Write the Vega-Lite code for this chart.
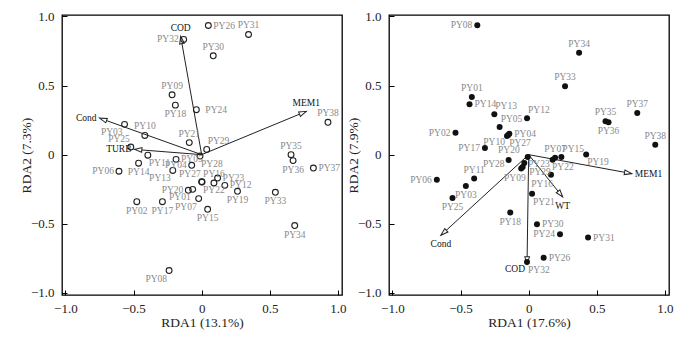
{
  "$schema": "https://vega.github.io/schema/vega-lite/v6.json",
  "padding": {"left": 18, "top": 9, "right": 5, "bottom": 2},
  "background": "white",
  "config": {
    "view": {"stroke": "black", "strokeWidth": 1.3},
    "font": "Liberation Serif",
    "axis": {
      "domain": false, "grid": false, "tickColor": "black", "tickSize": -5, "tickWidth": 1,
      "labelFont": "Liberation Serif", "labelFontSize": 13, "labelColor": "#222",
      "titleFont": "Liberation Serif", "titleFontSize": 13.5, "titleFontWeight": "normal", "titleColor": "#222",
      "labelFlush": false, "labelOverlap": false,
      "labelExpr": "datum.value == 0 ? '0' : format(datum.value, '.1f')"
    },
    "axisX": {"labelPadding": 12, "titleY": 27.5, "titleBaseline": "middle"},
    "axisY": {"labelPadding": 13, "titleX": -36, "titleY": 140, "titleBaseline": "middle", "titleAngle": -90},
    "text": {"font": "Liberation Serif", "fontSize": 9.5, "color": "#8a8a8a"}
  },
  "datasets": {
    "sa": [
      {"site": "PY01", "x": -0.066, "y": -0.251},
      {"site": "PY02", "x": -0.476, "y": -0.340},
      {"site": "PY03", "x": -0.566, "y": 0.219},
      {"site": "PY04", "x": -0.073, "y": -0.077},
      {"site": "PY05", "x": -0.188, "y": -0.034},
      {"site": "PY06", "x": -0.607, "y": -0.120},
      {"site": "PY07", "x": -0.022, "y": -0.318},
      {"site": "PY08", "x": -0.239, "y": -0.838},
      {"site": "PY09", "x": -0.217, "y": 0.433},
      {"site": "PY10", "x": -0.417, "y": 0.139},
      {"site": "PY11", "x": -0.395, "y": -0.004},
      {"site": "PY12", "x": 0.170, "y": -0.222},
      {"site": "PY13", "x": -0.212, "y": -0.114},
      {"site": "PY14", "x": -0.463, "y": -0.062},
      {"site": "PY15", "x": 0.044, "y": -0.395},
      {"site": "PY16", "x": 0.090, "y": -0.205},
      {"site": "PY17", "x": -0.288, "y": -0.340},
      {"site": "PY18", "x": -0.193, "y": 0.358},
      {"site": "PY19", "x": 0.263, "y": -0.265},
      {"site": "PY20", "x": -0.098, "y": -0.258},
      {"site": "PY21", "x": -0.091, "y": 0.087},
      {"site": "PY22", "x": 0.003, "y": -0.198},
      {"site": "PY23", "x": 0.117, "y": -0.169},
      {"site": "PY24", "x": -0.039, "y": 0.325},
      {"site": "PY25", "x": -0.520, "y": 0.055},
      {"site": "PY26", "x": 0.049, "y": 0.934},
      {"site": "PY27", "x": 0.000, "y": -0.196},
      {"site": "PY28", "x": -0.012, "y": -0.010},
      {"site": "PY29", "x": 0.037, "y": 0.038},
      {"site": "PY30", "x": 0.085, "y": 0.715},
      {"site": "PY31", "x": 0.344, "y": 0.869},
      {"site": "PY32", "x": -0.132, "y": 0.833},
      {"site": "PY33", "x": 0.541, "y": -0.272},
      {"site": "PY34", "x": 0.683, "y": -0.513},
      {"site": "PY35", "x": 0.656, "y": 0.0},
      {"site": "PY36", "x": 0.671, "y": -0.043},
      {"site": "PY37", "x": 0.820, "y": -0.097},
      {"site": "PY38", "x": 0.927, "y": 0.234}
    ],
    "va": [
      {"var": "COD", "x": -0.154, "y": 0.855},
      {"var": "Cond", "x": -0.749, "y": 0.264},
      {"var": "TURB", "x": -0.493, "y": 0.038},
      {"var": "MEM1", "x": 0.768, "y": 0.313}
    ],
    "sb": [
      {"site": "PY01", "x": -0.417, "y": 0.417},
      {"site": "PY02", "x": -0.537, "y": 0.159},
      {"site": "PY03", "x": -0.461, "y": -0.227},
      {"site": "PY04", "x": -0.142, "y": 0.152},
      {"site": "PY05", "x": -0.213, "y": 0.200},
      {"site": "PY06", "x": -0.674, "y": -0.181},
      {"site": "PY07", "x": 0.194, "y": -0.022},
      {"site": "PY08", "x": -0.377, "y": 0.935},
      {"site": "PY09", "x": -0.044, "y": -0.090},
      {"site": "PY10", "x": -0.159, "y": 0.135},
      {"site": "PY11", "x": -0.400, "y": -0.173},
      {"site": "PY12", "x": -0.012, "y": 0.263},
      {"site": "PY13", "x": -0.252, "y": 0.292},
      {"site": "PY14", "x": -0.434, "y": 0.364},
      {"site": "PY15", "x": 0.240, "y": -0.017},
      {"site": "PY16", "x": -0.032, "y": -0.061},
      {"site": "PY17", "x": -0.321, "y": 0.048},
      {"site": "PY18", "x": -0.135, "y": -0.419},
      {"site": "PY19", "x": 0.422, "y": 0.002},
      {"site": "PY20", "x": -0.007, "y": -0.017},
      {"site": "PY21", "x": 0.025, "y": -0.282},
      {"site": "PY22", "x": 0.164, "y": -0.145},
      {"site": "PY23", "x": 0.176, "y": -0.036},
      {"site": "PY24", "x": 0.230, "y": -0.576},
      {"site": "PY25", "x": -0.559, "y": -0.313},
      {"site": "PY26", "x": 0.110, "y": -0.745},
      {"site": "PY27", "x": -0.150, "y": 0.142},
      {"site": "PY28", "x": -0.147, "y": -0.039},
      {"site": "PY29", "x": -0.055, "y": -0.100},
      {"site": "PY30", "x": 0.061, "y": -0.504},
      {"site": "PY31", "x": 0.436, "y": -0.600},
      {"site": "PY32", "x": -0.012, "y": -0.776},
      {"site": "PY33", "x": 0.267, "y": 0.494},
      {"site": "PY34", "x": 0.370, "y": 0.737},
      {"site": "PY35", "x": 0.564, "y": 0.241},
      {"site": "PY36", "x": 0.586, "y": 0.234},
      {"site": "PY37", "x": 0.797, "y": 0.301},
      {"site": "PY38", "x": 0.929, "y": 0.072}
    ],
    "vb": [
      {"var": "COD", "x": -0.012, "y": -0.792},
      {"var": "Cond", "x": -0.644, "y": -0.583},
      {"var": "WT", "x": 0.250, "y": -0.306},
      {"var": "MEM1", "x": 0.757, "y": -0.137}
    ]
  },
  "bounds": "flush",
  "spacing": 47,
  "hconcat": [
    {
      "width": 280, "height": 280,
      "encoding": {
        "x": {"field": "x", "type": "quantitative", "scale": {"domain": [-1.025, 1.03], "nice": false, "zero": false}, "axis": {"title": "RDA1 (13.1%)", "values": [-1, -0.5, 0, 0.5, 1]}},
        "y": {"field": "y", "type": "quantitative", "scale": {"domain": [-1.015, 1.01], "nice": false, "zero": false}, "axis": {"title": "RDA2 (7.3%)", "values": [-1, -0.5, 0, 0.5, 1]}}
      },
      "layer": [
        {"data": {"values": [{"k": 0}]}, "mark": {"type": "rule", "color": "black", "strokeDash": [3, 2], "strokeWidth": 1}, "encoding": {"y": {"datum": 0}, "x": {"datum": -1.025}, "x2": {"datum": 1.03}}},
        {"data": {"values": [{"k": 0}]}, "mark": {"type": "rule", "color": "black", "strokeDash": [3, 2], "strokeWidth": 1}, "encoding": {"x": {"datum": 0}, "y": {"datum": -1.015}, "y2": {"datum": 1.01}}},
        {"data": {"name": "va"}, "mark": {"type": "rule", "color": "#222", "strokeWidth": 1}, "encoding": {"x2": {"datum": 0}, "y2": {"datum": 0}}},
        {"data": {"name": "va"}, "transform": [{"calculate": "atan2(datum.x, datum.y) * 180 / PI", "as": "ang"}],
         "mark": {"type": "point", "shape": "M0,0L-0.67,2.1L0.67,2.1Z", "size": 49, "filled": true, "fill": "white", "stroke": "#222", "strokeWidth": 1, "opacity": 1},
         "encoding": {"angle": {"field": "ang", "type": "quantitative", "scale": null}}},
        {"data": {"name": "sa"}, "mark": {"type": "point", "shape": "circle", "size": 34, "filled": false, "stroke": "#222", "strokeWidth": 1.1, "opacity": 1}},
        {"data": {"name": "sa"}, "transform": [{"filter": {"field": "site", "oneOf": ["PY05", "PY12", "PY23", "PY26", "PY37"]}}], "mark": {"type": "text", "align": "left", "baseline": "middle", "dx": 5}, "encoding": {"text": {"field": "site"}}},
        {"data": {"name": "sa"}, "transform": [{"filter": {"field": "site", "oneOf": ["PY24"]}}], "mark": {"type": "text", "align": "left", "baseline": "middle", "dx": 9}, "encoding": {"text": {"field": "site"}}},
        {"data": {"name": "sa"}, "transform": [{"filter": {"field": "site", "oneOf": ["PY04", "PY06", "PY20", "PY32"]}}], "mark": {"type": "text", "align": "right", "baseline": "middle", "dx": -5}, "encoding": {"text": {"field": "site"}}},
        {"data": {"name": "sa"}, "transform": [{"filter": {"field": "site", "oneOf": ["PY09", "PY10", "PY16", "PY21", "PY30", "PY31", "PY35", "PY38"]}}], "mark": {"type": "text", "align": "center", "baseline": "bottom", "dy": -4}, "encoding": {"text": {"field": "site"}}},
        {"data": {"name": "sa"}, "transform": [{"filter": {"field": "site", "oneOf": ["PY02", "PY14", "PY15", "PY17", "PY18", "PY19", "PY33", "PY34", "PY36"]}}], "mark": {"type": "text", "align": "center", "baseline": "top", "dy": 4}, "encoding": {"text": {"field": "site"}}},
        {"data": {"name": "sa"}, "transform": [{"filter": {"field": "site", "oneOf": ["PY01", "PY03", "PY07", "PY08", "PY13"]}}], "mark": {"type": "text", "align": "right", "baseline": "top", "dx": -2, "dy": 3}, "encoding": {"text": {"field": "site"}}},
        {"data": {"name": "sa"}, "transform": [{"filter": {"field": "site", "oneOf": ["PY11", "PY22", "PY28"]}}], "mark": {"type": "text", "align": "left", "baseline": "top", "dx": 1, "dy": 3}, "encoding": {"text": {"field": "site"}}},
        {"data": {"name": "sa"}, "transform": [{"filter": {"field": "site", "oneOf": ["PY25", "PY27"]}}], "mark": {"type": "text", "align": "right", "baseline": "bottom", "dx": -1, "dy": -3}, "encoding": {"text": {"field": "site"}}},
        {"data": {"name": "sa"}, "transform": [{"filter": {"field": "site", "oneOf": ["PY29"]}}], "mark": {"type": "text", "align": "left", "baseline": "bottom", "dx": 1, "dy": -3}, "encoding": {"text": {"field": "site"}}},
        {"data": {"name": "va"}, "transform": [{"filter": {"field": "var", "oneOf": ["COD", "MEM1"]}}], "mark": {"type": "text", "align": "center", "baseline": "bottom", "dy": -3, "color": "#111"}, "encoding": {"text": {"field": "var"}}},
        {"data": {"name": "va"}, "transform": [{"filter": {"field": "var", "oneOf": ["Cond", "TURB"]}}], "mark": {"type": "text", "align": "right", "baseline": "middle", "dx": -3, "color": "#111"}, "encoding": {"text": {"field": "var"}}},
        {"data": {"values": [{"lab": "(a)"}]}, "mark": {"type": "text", "align": "left", "baseline": "middle", "fontSize": 13, "color": "#222"}, "encoding": {"text": {"field": "lab"}, "x": {"datum": -0.875}, "y": {"datum": 0.91}}}
      ]
    },
    {
      "width": 280, "height": 280,
      "encoding": {
        "x": {"field": "x", "type": "quantitative", "scale": {"domain": [-1.025, 1.03], "nice": false, "zero": false}, "axis": {"title": "RDA1 (17.6%)", "values": [-1, -0.5, 0, 0.5, 1]}},
        "y": {"field": "y", "type": "quantitative", "scale": {"domain": [-1.015, 1.01], "nice": false, "zero": false}, "axis": {"title": "RDA2 (7.9%)", "values": [-1, -0.5, 0, 0.5, 1]}}
      },
      "layer": [
        {"data": {"values": [{"k": 0}]}, "mark": {"type": "rule", "color": "black", "strokeDash": [3, 2], "strokeWidth": 1}, "encoding": {"y": {"datum": 0}, "x": {"datum": -1.025}, "x2": {"datum": 1.03}}},
        {"data": {"values": [{"k": 0}]}, "mark": {"type": "rule", "color": "black", "strokeDash": [3, 2], "strokeWidth": 1}, "encoding": {"x": {"datum": 0}, "y": {"datum": -1.015}, "y2": {"datum": 1.01}}},
        {"data": {"name": "vb"}, "mark": {"type": "rule", "color": "#222", "strokeWidth": 1}, "encoding": {"x2": {"datum": 0}, "y2": {"datum": 0}}},
        {"data": {"name": "vb"}, "transform": [{"calculate": "atan2(datum.x, datum.y) * 180 / PI", "as": "ang"}],
         "mark": {"type": "point", "shape": "M0,0L-0.67,2.1L0.67,2.1Z", "size": 49, "filled": true, "fill": "white", "stroke": "#222", "strokeWidth": 1, "opacity": 1},
         "encoding": {"angle": {"field": "ang", "type": "quantitative", "scale": null}}},
        {"data": {"name": "sb"}, "mark": {"type": "point", "shape": "circle", "size": 36, "filled": true, "color": "#111", "opacity": 1}},
        {"data": {"name": "sb"}, "transform": [{"filter": {"field": "site", "oneOf": ["PY04", "PY14", "PY26", "PY30", "PY31"]}}], "mark": {"type": "text", "align": "left", "baseline": "middle", "dx": 5}, "encoding": {"text": {"field": "site"}}},
        {"data": {"name": "sb"}, "transform": [{"filter": {"field": "site", "oneOf": ["PY29"]}}], "mark": {"type": "text", "align": "left", "baseline": "middle", "dx": 8, "dy": 4}, "encoding": {"text": {"field": "site"}}},
        {"data": {"name": "sb"}, "transform": [{"filter": {"field": "site", "oneOf": ["PY16"]}}], "mark": {"type": "text", "align": "left", "baseline": "middle", "dx": 7, "dy": 21}, "encoding": {"text": {"field": "site"}}},
        {"data": {"name": "sb"}, "transform": [{"filter": {"field": "site", "oneOf": ["PY23"]}}], "mark": {"type": "text", "align": "right", "baseline": "middle", "dx": -3, "dy": 4}, "encoding": {"text": {"field": "site"}}},
        {"data": {"name": "sb"}, "transform": [{"filter": {"field": "site", "oneOf": ["PY09"]}}], "mark": {"type": "text", "align": "right", "baseline": "middle", "dx": 3, "dy": 11}, "encoding": {"text": {"field": "site"}}},
        {"data": {"name": "sb"}, "transform": [{"filter": {"field": "site", "oneOf": ["PY20"]}}], "mark": {"type": "text", "align": "right", "baseline": "middle", "dx": -8, "dy": -7}, "encoding": {"text": {"field": "site"}}},
        {"data": {"name": "sb"}, "transform": [{"filter": {"field": "site", "oneOf": ["PY02", "PY06", "PY08", "PY17", "PY24"]}}], "mark": {"type": "text", "align": "right", "baseline": "middle", "dx": -5}, "encoding": {"text": {"field": "site"}}},
        {"data": {"name": "sb"}, "transform": [{"filter": {"field": "site", "oneOf": ["PY28"]}}], "mark": {"type": "text", "align": "right", "baseline": "middle", "dx": -4, "dy": 4}, "encoding": {"text": {"field": "site"}}},
        {"data": {"name": "sb"}, "transform": [{"filter": {"field": "site", "oneOf": ["PY01", "PY07", "PY11", "PY33", "PY34", "PY35", "PY37", "PY38"]}}], "mark": {"type": "text", "align": "center", "baseline": "bottom", "dy": -4}, "encoding": {"text": {"field": "site"}}},
        {"data": {"name": "sb"}, "transform": [{"filter": {"field": "site", "oneOf": ["PY03", "PY18", "PY25", "PY36"]}}], "mark": {"type": "text", "align": "center", "baseline": "top", "dy": 4}, "encoding": {"text": {"field": "site"}}},
        {"data": {"name": "sb"}, "transform": [{"filter": {"field": "site", "oneOf": ["PY10"]}}], "mark": {"type": "text", "align": "right", "baseline": "top", "dx": -2, "dy": 1}, "encoding": {"text": {"field": "site"}}},
        {"data": {"name": "sb"}, "transform": [{"filter": {"field": "site", "oneOf": ["PY19", "PY21", "PY27", "PY32"]}}], "mark": {"type": "text", "align": "left", "baseline": "top", "dx": 1, "dy": 3}, "encoding": {"text": {"field": "site"}}},
        {"data": {"name": "sb"}, "transform": [{"filter": {"field": "site", "oneOf": ["PY05", "PY12", "PY13", "PY15", "PY22"]}}], "mark": {"type": "text", "align": "left", "baseline": "bottom", "dx": 1, "dy": -3}, "encoding": {"text": {"field": "site"}}},
        {"data": {"name": "vb"}, "transform": [{"filter": {"field": "var", "oneOf": ["MEM1"]}}], "mark": {"type": "text", "align": "left", "baseline": "middle", "dx": 3, "color": "#111"}, "encoding": {"text": {"field": "var"}}},
        {"data": {"name": "vb"}, "transform": [{"filter": {"field": "var", "oneOf": ["Cond", "WT"]}}], "mark": {"type": "text", "align": "center", "baseline": "top", "dy": 4, "color": "#111"}, "encoding": {"text": {"field": "var"}}},
        {"data": {"name": "vb"}, "transform": [{"filter": {"field": "var", "oneOf": ["COD"]}}], "mark": {"type": "text", "align": "right", "baseline": "top", "dx": -2, "dy": 0, "color": "#111"}, "encoding": {"text": {"field": "var"}}},
        {"data": {"values": [{"lab": "(b)"}]}, "mark": {"type": "text", "align": "left", "baseline": "middle", "fontSize": 13, "color": "#222"}, "encoding": {"text": {"field": "lab"}, "x": {"datum": -0.875}, "y": {"datum": 0.91}}}
      ]
    }
  ]
}
